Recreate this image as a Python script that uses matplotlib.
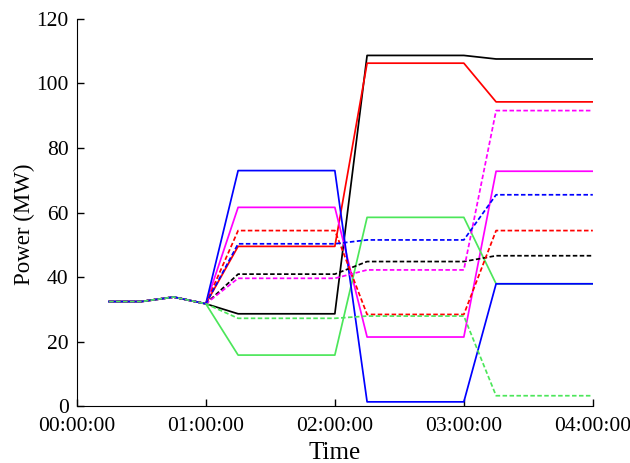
import matplotlib.pyplot as plt

plt.rcParams['font.family'] = 'serif'
plt.rcParams['font.serif'] = ['Liberation Serif', 'Times New Roman', 'DejaVu Serif']

times = ["00:15", "00:30", "00:45", "01:00", "01:15", "02:00",
         "02:15", "03:00", "03:15", "04:00"]
start = [32.4, 32.4, 33.8, 31.7]

# solid lines
black_solid = start + [28.6, 28.6, 108.7, 108.7, 107.6, 107.6]
red_solid = start + [49.5, 49.5, 106.3, 106.3, 94.3, 94.3]
green_solid = start + [15.8, 15.8, 58.5, 58.5, 37.9, 37.9]
blue_solid = start + [73.0, 73.0, 1.3, 1.3, 37.9, 37.9]
magenta_solid = start + [61.6, 61.6, 21.4, 21.4, 72.8, 72.8]

# dashed lines
black_dash = start + [40.9, 40.9, 44.8, 44.8, 46.6, 46.6]
red_dash = start + [54.4, 54.4, 28.4, 28.4, 54.4, 54.4]
blue_dash = start + [50.3, 50.3, 51.5, 51.5, 65.5, 65.5]
magenta_dash = start + [39.6, 39.6, 42.2, 42.2, 91.6, 91.6]
green_dash = start + [27.2, 27.2, 27.9, 27.9, 3.2, 3.2]

tick_labels = ["00:00:00", "01:00:00", "02:00:00", "03:00:00", "04:00:00"]

def to_hours(t):
    h, m = t.split(":")
    return int(h) + int(m) / 60.0

x = [to_hours(t) for t in times]

green = "#4ce65a"
fig = plt.figure(figsize=(6.3, 4.63), dpi=100)
ax = fig.add_axes([0.122, 0.123, 0.819, 0.836])

lw = 1.25
ax.plot(x, black_solid, color="black", lw=lw)
ax.plot(x, red_solid, color="#ff0000", lw=lw)
ax.plot(x, magenta_solid, color="#ff00ff", lw=lw)
ax.plot(x, green_solid, color=green, lw=lw)
ax.plot(x, blue_solid, color="#0000ff", lw=lw)

dash = (2.6, 1.4)
ax.plot(x, black_dash, color="black", lw=lw, dashes=dash)
ax.plot(x, red_dash, color="#ff0000", lw=lw, dashes=dash)
ax.plot(x, magenta_dash, color="#ff00ff", lw=lw, dashes=dash)
ax.plot(x, blue_dash, color="#0000ff", lw=lw, dashes=dash)
ax.plot(x, green_dash, color=green, lw=lw, dashes=dash)

ax.set_xlim(0, 4)
ax.set_ylim(0, 120)
ax.set_xticks(range(len(tick_labels)))
ax.set_xticklabels(tick_labels)
ax.set_yticks(range(0, 121, 20))
ax.spines["top"].set_visible(False)
ax.spines["right"].set_visible(False)
ax.tick_params(direction="in", length=5, labelsize=15.5, width=1)
ax.tick_params(axis="x", pad=8)
ax.tick_params(axis="y", pad=6)
ax.set_xlabel("Time", fontsize=18, labelpad=4.5)
ax.set_ylabel("Power (MW)", fontsize=16.5)
ax.yaxis.set_label_coords(-0.082, 0.47)

fig.savefig("out.png", dpi=100)
